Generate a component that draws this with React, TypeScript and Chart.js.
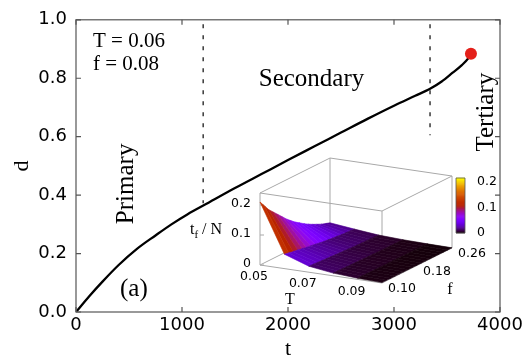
import React, { useEffect, useRef } from "react";
import { Chart, registerables } from "chart.js";
Chart.register(...registerables);

// ---------- main curve data ----------
const TIME = [0, 125, 250, 400, 575, 750, 900, 1050, 1250, 1500, 1750, 2000, 2250, 2500, 2750, 3000, 3200, 3340, 3450, 3550, 3640, 3700, 3726];
const DAMAGE = [0, 0.054, 0.104, 0.16, 0.216, 0.262, 0.3, 0.334, 0.374, 0.424, 0.472, 0.52, 0.567, 0.614, 0.661, 0.706, 0.74, 0.764, 0.789, 0.818, 0.845, 0.868, 0.884];
const FAILURE_T = [3726];
const FAILURE_D = [0.884];
const BOUNDARY_T = [1200, 3340];
const BOUNDARY_TOP = [0.985, 0.985];
const BOUNDARY_BOTTOM = [0.372, 0.605];
const X_TICKS = [0, 1000, 2000, 3000, 4000];
const Y_TICKS = [0, 0.2, 0.4, 0.6, 0.8, 1.0];

// ---------- inset surface data ----------
const INSET_T = [0.05, 0.06, 0.07, 0.08, 0.09, 0.1];
const INSET_F = [0.1, 0.11, 0.12, 0.13, 0.14, 0.15, 0.16, 0.17, 0.18, 0.19, 0.2, 0.21, 0.22, 0.23, 0.24, 0.25, 0.26];
const INSET_Z_T005 = [0.21, 0.19, 0.17, 0.155, 0.14, 0.125, 0.11, 0.097, 0.085, 0.075, 0.065, 0.056, 0.048, 0.041, 0.034, 0.029, 0.024];
const INSET_Z_T006 = [0.048, 0.045, 0.042, 0.04, 0.037, 0.034, 0.032, 0.03, 0.027, 0.025, 0.023, 0.021, 0.02, 0.018, 0.017, 0.016, 0.015];
const INSET_Z_T007 = [0.02, 0.019, 0.018, 0.017, 0.016, 0.015, 0.014, 0.013, 0.012, 0.011, 0.01, 0.0095, 0.009, 0.0085, 0.008, 0.0075, 0.007];
const INSET_Z_T008 = [0.009, 0.0085, 0.008, 0.0075, 0.007, 0.0068, 0.0065, 0.0062, 0.006, 0.0055, 0.005, 0.0048, 0.0045, 0.0042, 0.004, 0.0038, 0.0035];
const INSET_Z_T009 = [0.004, 0.0039, 0.0037, 0.0035, 0.0034, 0.0032, 0.003, 0.0029, 0.0028, 0.0026, 0.0025, 0.0024, 0.0022, 0.0021, 0.002, 0.0019, 0.0018];
const INSET_Z_T010 = [0.0015, 0.0015, 0.0014, 0.0014, 0.0013, 0.0013, 0.0012, 0.0012, 0.0011, 0.0011, 0.001, 0.001, 0.0009, 0.0009, 0.0008, 0.0008, 0.0007];
const INSET_Z = [INSET_Z_T005, INSET_Z_T006, INSET_Z_T007, INSET_Z_T008, INSET_Z_T009, INSET_Z_T010];
const INSET_T_TICKS = [0.05, 0.07, 0.09];
const INSET_F_TICKS = [0.1, 0.18, 0.26];
const INSET_Z_TICKS = [0, 0.1, 0.2];
const CB_TICKS = [0, 0.1, 0.2];

// inset axis ranges
const T_MIN = 0.05, T_MAX = 0.1, F_MIN = 0.1, F_MAX = 0.26, Z_MAX = 0.24, CB_MAX = 0.215;
// view (projection of unit box axes onto the inset plane)
const VIEW = { tx: 1.22, ty: -0.18, fx: 0.7, fy: 0.35, zy: 0.72 };
const CB_BOX = { u0: 1.96, u1: 2.05, v0: 0.32, v1: 0.87 };

const SERIF = '"Liberation Serif", "Times New Roman", serif';
const SANS = '"DejaVu Sans", sans-serif';

function pm3d(g: number): string {
  g = Math.max(0, Math.min(1, g));
  const r = Math.sqrt(g);
  const gg = g * g * g;
  const b = Math.max(0, Math.sin(2 * Math.PI * g));
  return `rgb(${Math.round(r * 255)},${Math.round(gg * 255)},${Math.round(b * 255)})`;
}

const mainDecor = {
  id: "mainDecor",
  afterDraw(chart: any) {
    const { ctx, chartArea: a, scales } = chart;
    const xs = scales.x, ys = scales.y;
    ctx.save();
    // frame
    ctx.strokeStyle = "#555";
    ctx.lineWidth = 1.2;
    ctx.strokeRect(a.left, a.top, a.right - a.left, a.bottom - a.top);
    // inward ticks, mirrored
    ctx.beginPath();
    for (const t of X_TICKS) {
      const px = xs.getPixelForValue(t);
      ctx.moveTo(px, a.bottom); ctx.lineTo(px, a.bottom - 5);
      ctx.moveTo(px, a.top); ctx.lineTo(px, a.top + 5);
    }
    for (const d of Y_TICKS) {
      const py = ys.getPixelForValue(d);
      ctx.moveTo(a.left, py); ctx.lineTo(a.left + 5, py);
      ctx.moveTo(a.right, py); ctx.lineTo(a.right - 5, py);
    }
    ctx.stroke();

    ctx.fillStyle = "#000";
    ctx.textBaseline = "alphabetic";
    ctx.font = `21px ${SERIF}`;
    ctx.textAlign = "left";
    ctx.fillText("T = 0.06", xs.getPixelForValue(160), ys.getPixelForValue(0.907));
    ctx.fillText("f = 0.08", xs.getPixelForValue(160), ys.getPixelForValue(0.828));
    ctx.font = `25px ${SERIF}`;
    ctx.textAlign = "center";
    ctx.fillText("Secondary", xs.getPixelForValue(2222), ys.getPixelForValue(0.774));
    ctx.textAlign = "left";
    ctx.fillText("(a)", xs.getPixelForValue(415), ys.getPixelForValue(0.055));
    // rotated labels
    ctx.textAlign = "center";
    ctx.save();
    ctx.translate(xs.getPixelForValue(540), ys.getPixelForValue(0.4385));
    ctx.rotate(-Math.PI / 2);
    ctx.fillText("Primary", 0, 0);
    ctx.restore();
    ctx.save();
    ctx.translate(xs.getPixelForValue(3934), ys.getPixelForValue(0.684));
    ctx.rotate(-Math.PI / 2);
    ctx.fillText("Tertiary", 0, 0);
    ctx.restore();
    ctx.restore();
  },
};

const surfacePlugin = {
  id: "surface3d",
  afterDraw(chart: any) {
    const { ctx, scales } = chart;
    const xs = scales.x, ys = scales.y;
    const P = (T: number, f: number, z: number): [number, number] => {
      const tn = (T - T_MIN) / (T_MAX - T_MIN);
      const fn = (f - F_MIN) / (F_MAX - F_MIN);
      const zn = z / Z_MAX;
      const u = VIEW.tx * tn + VIEW.fx * fn;
      const v = VIEW.ty * tn + VIEW.fy * fn + VIEW.zy * zn;
      return [xs.getPixelForValue(u), ys.getPixelForValue(v)];
    };
    ctx.save();
    // box edges
    ctx.strokeStyle = "#a8a8a8";
    ctx.lineWidth = 1;
    const corners: [number, number][] = [[T_MIN, F_MIN], [T_MAX, F_MIN], [T_MAX, F_MAX], [T_MIN, F_MAX]];
    ctx.beginPath();
    for (let k = 0; k < 4; k++) {
      const [t1, f1] = corners[k];
      const [t2, f2] = corners[(k + 1) % 4];
      for (const z of [0, Z_MAX]) {
        const a = P(t1, f1, z), b = P(t2, f2, z);
        ctx.moveTo(a[0], a[1]); ctx.lineTo(b[0], b[1]);
      }
      const a = P(t1, f1, 0), b = P(t1, f1, Z_MAX);
      ctx.moveTo(a[0], a[1]); ctx.lineTo(b[0], b[1]);
    }
    // z ticks
    for (const z of INSET_Z_TICKS) {
      const a = P(T_MIN, F_MIN, z);
      ctx.moveTo(a[0], a[1]); ctx.lineTo(a[0] + 4, a[1]);
    }
    ctx.stroke();

    // surface quads, far to near
    const quads: { n: number; pts: [number, number][]; c: string }[] = [];
    for (let i = 0; i < INSET_T.length - 1; i++) {
      for (let j = 0; j < INSET_F.length - 1; j++) {
        const z00 = INSET_Z[i][j], z10 = INSET_Z[i + 1][j], z11 = INSET_Z[i + 1][j + 1], z01 = INSET_Z[i][j + 1];
        const mean = (z00 + z10 + z11 + z01) / 4;
        const tn = ((INSET_T[i] + INSET_T[i + 1]) / 2 - T_MIN) / (T_MAX - T_MIN);
        const fn = ((INSET_F[j] + INSET_F[j + 1]) / 2 - F_MIN) / (F_MAX - F_MIN);
        quads.push({
          n: 0.18 * tn - 0.35 * fn,
          pts: [P(INSET_T[i], INSET_F[j], z00), P(INSET_T[i + 1], INSET_F[j], z10), P(INSET_T[i + 1], INSET_F[j + 1], z11), P(INSET_T[i], INSET_F[j + 1], z01)],
          c: pm3d(mean / CB_MAX),
        });
      }
    }
    quads.sort((a, b) => a.n - b.n);
    ctx.lineWidth = 0.6;
    ctx.lineJoin = "round";
    for (const q of quads) {
      ctx.beginPath();
      ctx.moveTo(q.pts[0][0], q.pts[0][1]);
      for (let k = 1; k < 4; k++) ctx.lineTo(q.pts[k][0], q.pts[k][1]);
      ctx.closePath();
      ctx.fillStyle = q.c;
      ctx.strokeStyle = q.c;
      ctx.fill();
      ctx.stroke();
    }

    // tick labels
    ctx.fillStyle = "#000";
    ctx.font = `12.5px ${SANS}`;
    ctx.textBaseline = "middle";
    ctx.textAlign = "center";
    for (const t of INSET_T_TICKS) {
      const p = P(t, F_MIN, 0);
      ctx.fillText(t.toFixed(2), p[0] - 6, p[1] + 12);
    }
    for (const f of INSET_F_TICKS) {
      const p = P(T_MAX, f, 0);
      ctx.fillText(f.toFixed(2), p[0] + 20, p[1] + 6);
    }
    ctx.textAlign = "right";
    for (const z of INSET_Z_TICKS) {
      const p = P(T_MIN, F_MIN, z);
      ctx.fillText(z === 0 ? "0" : z.toFixed(1), p[0] - 9, p[1] - 1);
    }
    // axis labels
    ctx.font = `16px ${SERIF}`;
    ctx.textAlign = "center";
    const pt = P((T_MIN + T_MAX) / 2, F_MIN, 0);
    ctx.fillText("T", pt[0] - 31, pt[1] + 26);
    const pf = P(T_MAX, (F_MIN + F_MAX) / 2, 0);
    ctx.fillText("f", pf[0] + 33, pf[1] + 24);
    const pz = P(T_MIN, F_MIN, 0.1);
    ctx.textAlign = "left";
    let x0 = pz[0] - 70;
    const y0 = pz[1] - 5;
    ctx.fillText("t", x0, y0);
    x0 += ctx.measureText("t").width;
    ctx.font = `11px ${SERIF}`;
    ctx.fillText("f", x0, y0 + 5);
    x0 += ctx.measureText("f").width;
    ctx.font = `16px ${SERIF}`;
    ctx.fillText(" / N", x0, y0);

    // colour box
    const bx0 = xs.getPixelForValue(CB_BOX.u0), bx1 = xs.getPixelForValue(CB_BOX.u1);
    const cbPix = (c: number) => ys.getPixelForValue(CB_BOX.v0 + (c / CB_MAX) * (CB_BOX.v1 - CB_BOX.v0));
    const steps = 60;
    for (let s = 0; s < steps; s++) {
      const c0 = (s / steps) * CB_MAX, c1 = ((s + 1) / steps) * CB_MAX;
      const ya = cbPix(c0), yb = cbPix(c1);
      ctx.fillStyle = pm3d((s + 0.5) / steps);
      ctx.fillRect(bx0, yb - 0.3, bx1 - bx0, ya - yb + 0.6);
    }
    ctx.strokeStyle = "#555";
    ctx.lineWidth = 0.8;
    ctx.strokeRect(bx0, cbPix(CB_MAX), bx1 - bx0, cbPix(0) - cbPix(CB_MAX));
    ctx.fillStyle = "#000";
    ctx.font = `12.5px ${SANS}`;
    ctx.textAlign = "left";
    for (const c of CB_TICKS) {
      ctx.fillText(c === 0 ? "0" : c.toFixed(1), bx1 + 12, cbPix(c));
    }
    ctx.restore();
  },
};

export default function App() {
  const mainRef = useRef<HTMLCanvasElement>(null);
  const insetRef = useRef<HTMLCanvasElement>(null);

  useEffect(() => {
    const curve = TIME.map((t, i) => ({ x: t, y: DAMAGE[i] }));
    const failure = FAILURE_T.map((t, i) => ({ x: t, y: FAILURE_D[i] }));
    const boundaries = BOUNDARY_T.map((t, i) => ({
      data: [{ x: t, y: BOUNDARY_TOP[i] }, { x: t, y: BOUNDARY_BOTTOM[i] }],
      showLine: true,
      borderColor: "#444",
      borderWidth: 1.6,
      borderDash: [4, 7],
      pointRadius: 0,
      order: 2,
    }));
    const main = new Chart(mainRef.current!, {
      type: "scatter",
      data: {
        datasets: [
          {
            data: failure,
            pointRadius: 6,
            pointBackgroundColor: "#e4201a",
            pointBorderWidth: 0,
            showLine: false,
            order: 0,
          } as any,
          {
            data: curve,
            showLine: true,
            borderColor: "#000",
            borderWidth: 2.3,
            pointRadius: 0,
            cubicInterpolationMode: "monotone",
            order: 1,
          } as any,
          ...boundaries,
        ],
      },
      options: {
        responsive: false,
        animation: false,
        events: [],
        layout: { padding: { top: 11, right: 28, left: 0, bottom: 0 } },
        plugins: { legend: { display: false }, tooltip: { enabled: false } },
        scales: {
          x: {
            type: "linear",
            min: 0,
            max: 4000,
            afterBuildTicks: (s: any) => { s.ticks = X_TICKS.map((v) => ({ value: v })); },
            afterFit: (s: any) => { s.height = 50; },
            grid: { display: false, drawTicks: false },
            border: { display: false },
            ticks: { font: { family: "DejaVu Sans", size: 18 }, color: "#000", padding: 3, maxRotation: 0, callback: (v: any) => String(v) },
            title: { display: true, text: "t", color: "#000", font: { family: "Liberation Serif", size: 22 }, padding: { top: 0, bottom: 0 } },
          },
          y: {
            type: "linear",
            min: 0,
            max: 1,
            afterBuildTicks: (s: any) => { s.ticks = Y_TICKS.map((v) => ({ value: v })); },
            afterFit: (s: any) => { s.width = 76; },
            grid: { display: false, drawTicks: false },
            border: { display: false },
            ticks: { font: { family: "DejaVu Sans", size: 18 }, color: "#000", padding: 9, callback: (v: any) => Number(v).toFixed(1) },
            title: { display: true, text: "d", color: "#000", font: { family: "Liberation Serif", size: 22 }, padding: { top: 9, bottom: 0 } },
          },
        },
      },
      plugins: [mainDecor],
    } as any);

    const inset = new Chart(insetRef.current!, {
      type: "scatter",
      data: { datasets: [{ data: [], pointRadius: 0 }] },
      options: {
        responsive: false,
        animation: false,
        events: [],
        layout: { padding: 0 },
        plugins: { legend: { display: false }, tooltip: { enabled: false } },
        scales: {
          x: { type: "linear", min: -0.8, max: 2.4, display: false },
          y: { type: "linear", min: -0.55, max: 1.25, display: false },
        },
      },
      plugins: [surfacePlugin],
    } as any);

    return () => {
      main.destroy();
      inset.destroy();
    };
  }, []);

  return (
    <div style={{ position: "fixed", left: 0, top: 0, width: 528, height: 362, background: "#fff" }}>
      <canvas ref={mainRef} width={528} height={362} style={{ position: "absolute", left: 0, top: 0, width: 528, height: 362 }} />
      <canvas ref={insetRef} width={320} height={180} style={{ position: "absolute", left: 180, top: 140, width: 320, height: 180 }} />
    </div>
  );
}
